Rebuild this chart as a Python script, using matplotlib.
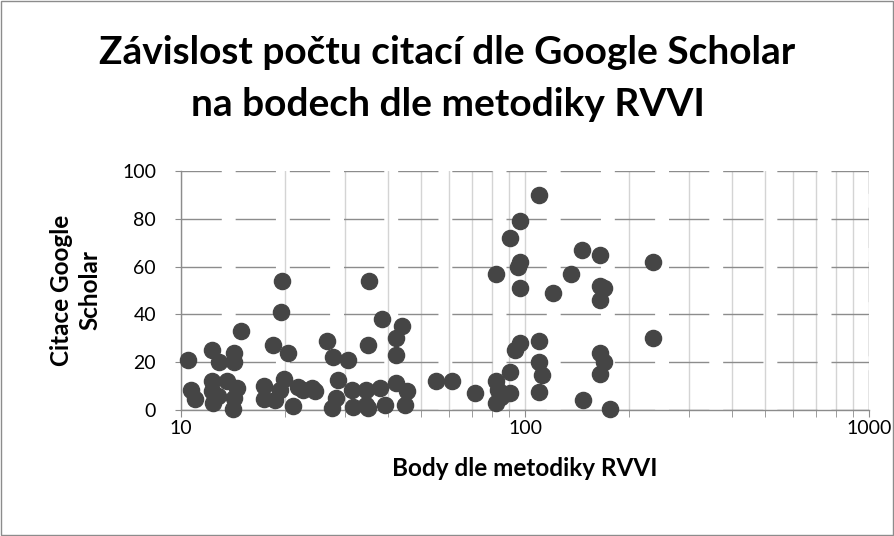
import matplotlib
matplotlib.use("Agg")
import matplotlib.pyplot as plt
from matplotlib.patches import Rectangle
from matplotlib.ticker import LogLocator, FixedLocator, NullFormatter

plt.rcParams['font.family'] = ['Lato', 'DejaVu Sans']

# data (points RVVI, citations Google Scholar)
body_rvvi = [10.5, 10.7, 11.0, 12.3, 12.9, 12.3, 12.3, 12.4, 12.8, 13.6,
             14.3, 14.3, 14.5, 14.3, 14.2, 14.9, 17.4, 17.4, 18.5, 18.8,
             19.6, 19.5, 20.4, 19.9, 19.4, 21.2, 21.9, 22.7, 24.0, 24.5,
             26.5, 27.7, 27.5, 28.3, 28.6, 30.6, 31.4, 31.7, 35.0, 34.6,
             35.3, 35.0, 34.6, 37.9, 38.3, 39.2, 42.1, 42.1, 42.3, 43.8,
             45.3, 44.9, 55.2, 61.4, 71.4, 82.5, 82.5, 83.6, 82.5, 85.0,
             90.2, 90.2, 90.2, 93.3, 96.6, 97.0, 95.5, 97.0, 96.6, 110.0,
             110.0, 110.0, 112.0, 110.0, 121.0, 136.0, 146.0, 147.0, 165.0, 165.0,
             170.0, 165.0, 165.0, 170.0, 165.0, 177.0, 236.0, 236.0]
citace_gs = [21, 8.5, 4.5, 25, 20, 12, 8, 3, 6, 12,
             24, 20, 9, 5, 0.5, 33, 10, 4.5, 27, 4,
             54, 41, 24, 13, 8.5, 1.5, 9.5, 8.5, 9, 8,
             29, 22, 0.7, 5, 12.5, 21, 8.5, 1.4, 0.7, 2,
             54, 27, 8.5, 9, 38, 2, 11.5, 30, 23, 35,
             8, 2, 12, 12, 7, 57, 12, 8.5, 3, 5.5,
             72, 16, 7, 25, 79, 62, 60, 51, 28, 90,
             29, 20, 14.5, 7.5, 49, 57, 67, 4, 65, 52,
             51, 46, 24, 20, 15, 0.3, 62, 30]

title_lines = ["Závislost počtu citací dle Google Scholar", "na bodech dle metodiky RVVI"]
x_label = "Body dle metodiky RVVI"
y_label = "Citace Google\nScholar"
y_ticks = [0, 20, 40, 60, 80, 100]
x_ticks = [10, 100, 1000]

fig = plt.figure(figsize=(8.95, 5.36), dpi=100)
ax = fig.add_axes([181 / 895, 1 - 410 / 536, (869 - 181) / 895, (410 - 171) / 536])

ax.scatter(body_rvvi, citace_gs, s=135, color='#454545', zorder=3, clip_on=False)

ax.set_xscale('log')
ax.set_xlim(10, 1000)
ax.set_ylim(0, 100)

ax.xaxis.set_major_locator(FixedLocator(x_ticks))
ax.xaxis.set_minor_locator(LogLocator(base=10, subs=range(2, 10)))
ax.xaxis.set_minor_formatter(NullFormatter())
ax.set_xticklabels([str(t) for t in x_ticks])
ax.set_yticks(y_ticks)
ax.set_yticklabels([str(t) for t in y_ticks])

# gridlines: vertical light solid, horizontal dashed
ax.grid(True, which='both', axis='x', color='#d4d4d4', lw=1, zorder=0)
ax.grid(True, which='major', axis='y', color='#8c8c8c', lw=1, ls=(0, (29, 10)), zorder=0)
ax.axvline(1000, color='#8c8c8c', lw=1, ls=(0, (29, 10)), zorder=1)

for side in ['top', 'right']:
    ax.spines[side].set_visible(False)
for side in ['left', 'bottom']:
    ax.spines[side].set_color('#8c8c8c')
    ax.spines[side].set_linewidth(1)

ax.tick_params(axis='both', which='both', colors='#8c8c8c', labelcolor='black', labelsize=14)
ax.tick_params(axis='x', which='major', length=5, pad=2)
ax.tick_params(axis='x', which='minor', length=5)
ax.tick_params(axis='y', which='major', length=4, pad=14)

fig.text(0.5, 1 - 52 / 536, title_lines[0], ha='center', va='center', fontsize=28, fontweight='bold')
fig.text(0.5, 1 - 105 / 536, title_lines[1], ha='center', va='center', fontsize=28, fontweight='bold')
fig.text(525 / 895, 1 - 468 / 536, x_label, ha='center', va='center', fontsize=17.5, fontweight='bold')
fig.text(76 / 895, 1 - 290 / 536, y_label, ha='center', va='center', fontsize=17.5, fontweight='bold',
         rotation=90, linespacing=1.3, multialignment='center')

fig.patches.append(Rectangle((0.001, 0.001), 0.997, 0.997, transform=fig.transFigure,
                             fill=False, edgecolor='#8c8c8c', lw=1))

fig.savefig("out.png", dpi=100)
